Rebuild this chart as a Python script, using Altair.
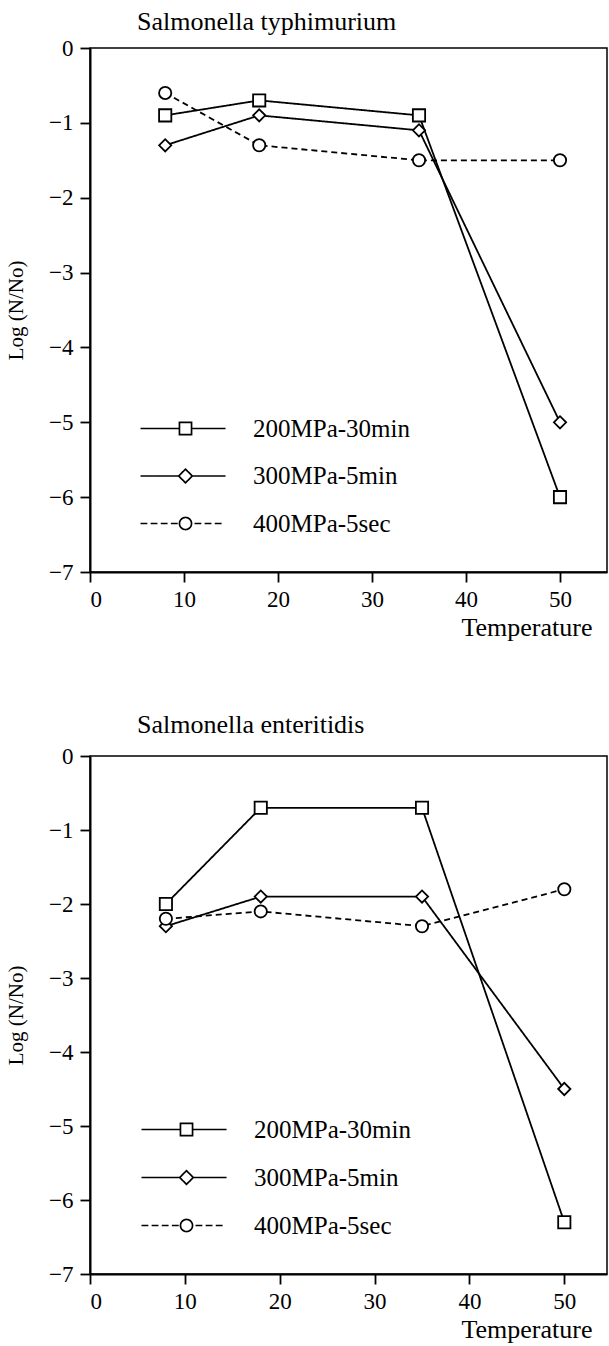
import math
import altair as alt
import pandas as pd

# ---- data ----
series = ["200MPa-30min", "300MPa-5min", "400MPa-5sec"]
temps = [8, 18, 35, 50]

typh_200 = [-0.9, -0.7, -0.9, -6.0]
typh_300 = [-1.3, -0.9, -1.1, -5.0]
typh_400 = [-0.6, -1.3, -1.5, -1.5]

ente_200 = [-2.0, -0.7, -0.7, -6.3]
ente_300 = [-2.3, -1.9, -1.9, -4.5]
ente_400 = [-2.2, -2.1, -2.3, -1.8]

x_ticks = [0, 10, 20, 30, 40, 50]
y_ticks = [-7, -6, -5, -4, -3, -2, -1, 0]

FONT = "Liberation Serif"


def make_df(vals200, vals300, vals400):
    rows = []
    for name, vals in zip(series, [vals200, vals300, vals400]):
        for t, v in zip(temps, vals):
            rows.append({"T": t, "v": v, "series": name})
    return pd.DataFrame(rows)


# ---- legend symbols: line + marker as custom SVG paths (unit = 11 px at size 484) ----
def seg(a, b):
    return f"M{a:.3f},0L{b:.3f},0"


def circle_path(r, n=28):
    pts = [(r * math.cos(2 * math.pi * i / n), r * math.sin(2 * math.pi * i / n)) for i in range(n)]
    return "M" + "L".join(f"{px:.3f},{py:.3f}" for px, py in pts) + "Z"


LFT, RGT, HS = -4.09, 3.64, 0.55
sym_square = seg(LFT, -HS) + seg(HS, RGT) + f"M{-HS},{-HS}L{HS},{-HS}L{HS},{HS}L{-HS},{HS}Z"
sym_diamond = seg(LFT, -0.62) + seg(0.62, RGT) + "M0,-0.62L0.62,0L0,0.62L-0.62,0Z"
DASH, GAP = 0.62, 0.3
sym_circle = (
    "".join(seg(LFT + i * (DASH + GAP), LFT + i * (DASH + GAP) + DASH) for i in range(4))
    + "".join(seg(0.82 + i * (DASH + GAP), 0.82 + i * (DASH + GAP) + DASH) for i in range(3))
    + circle_path(HS)
)
legend_symbols = [sym_square, sym_diamond, sym_circle]


def panel(df, title, title_offset, height, lx, ly, row_step, xmax):
    x = alt.X(
        "T:Q",
        scale=alt.Scale(domain=[0, xmax], nice=False, zero=False),
        axis=alt.Axis(
            values=x_ticks, title="Temperature", labelPadding=6,
            titleX=502, titleY=63, titleAlign="right", titleBaseline="alphabetic",
            titleFontSize=26,
        ),
    )
    y = alt.Y(
        "v:Q",
        scale=alt.Scale(domain=[-7, 0], nice=False, zero=False),
        axis=alt.Axis(values=y_ticks, title="Log (N/No)", labelPadding=7, titlePadding=22),
    )
    lines = alt.Chart(df).mark_line(color="black", strokeWidth=1.8).encode(
        x=x, y=y, detail="series:N", order="T:Q",
        strokeDash=alt.StrokeDash(
            "series:N",
            scale=alt.Scale(domain=series, range=[[1, 0], [1, 0], [6, 4]]),
            legend=None,
        ),
    )
    pts = alt.Chart(df).mark_point(
        fill="white", stroke="black", strokeWidth=1.8, opacity=1, size=150, filled=False
    ).encode(
        x=x, y=y,
        shape=alt.Shape(
            "series:N",
            scale=alt.Scale(domain=series, range=["square", "diamond", "circle"]),
            legend=None,
        ),
    )
    # one legend entry per series (legend-only layers, no marks drawn)
    legend_layers = []
    for i, (name, sym) in enumerate(zip(series, legend_symbols)):
        legend_layers.append(
            alt.Chart(df).transform_filter("datum.T < 0").mark_line(
                color="black", strokeWidth=1.7
            ).encode(
                x=x, y=y,
                strokeDash=alt.StrokeDash(
                    "series:N",
                    scale=alt.Scale(domain=[name], range=[[1, 0]]),
                    legend=alt.Legend(
                        title=None, orient="none", direction="vertical", padding=0,
                        legendX=lx, legendY=ly + i * row_step,
                        symbolType=sym, symbolSize=484, symbolStrokeWidth=1.7,
                        symbolStrokeColor="black", symbolOpacity=1,
                        labelFont=FONT, labelFontSize=25, labelColor="black", labelOffset=55,
                    ),
                ),
            )
        )
    return (
        alt.layer(lines, pts, *legend_layers)
        .resolve_scale(strokeDash="independent")
        .resolve_legend(strokeDash="independent")
        .properties(
            width=517, height=height,
            title=alt.TitleParams(
                text=title, anchor="start", frame="group", dx=47, offset=title_offset,
                font=FONT, fontSize=26, fontWeight="normal", color="black",
            ),
        )
    )


top = panel(make_df(typh_200, typh_300, typh_400), "Salmonella typhimurium", 2, 524, 83, 368, 47.5, 55)
bottom = panel(make_df(ente_200, ente_300, ente_400), "Salmonella enteritidis", 7, 518, 84, 361, 48, 54.5)

chart = alt.vconcat(top, bottom, spacing=70).properties(
    padding={"left": 4, "top": 8, "right": 0, "bottom": 0},
    background="white",
).configure_view(stroke="black", strokeWidth=1.5).configure_axis(
    grid=False, domainColor="black", domainWidth=2, tickColor="black", tickWidth=1.8,
    tickSize=10, labelFont=FONT, labelFontSize=23, labelColor="black",
    titleFont=FONT, titleFontSize=21, titleFontWeight="normal", titleColor="black",
)

chart.save("out.html", embed_options={"renderer": "svg", "actions": False})
